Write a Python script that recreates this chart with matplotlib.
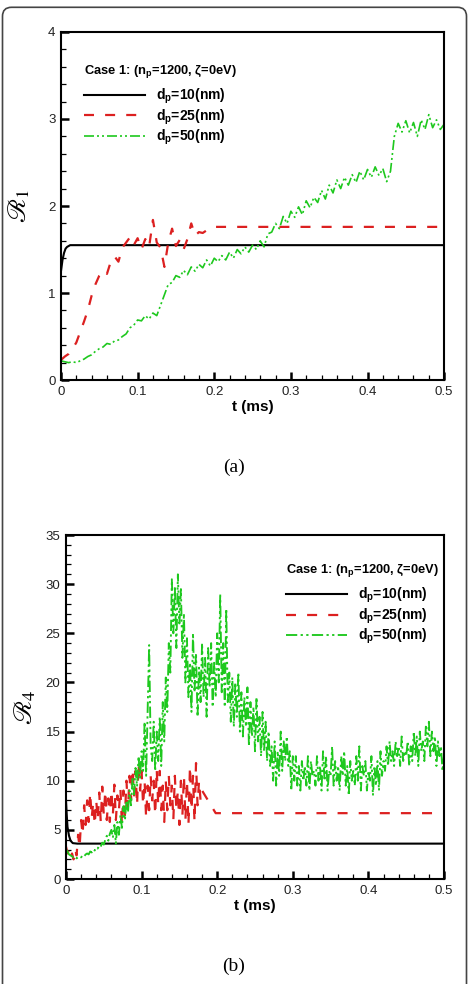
import numpy as np
import matplotlib
matplotlib.use("Agg")
import matplotlib.pyplot as plt
from matplotlib.patches import FancyBboxPatch
from matplotlib.transforms import IdentityTransform

plt.rcParams['font.family'] = ['Liberation Sans', 'DejaVu Sans']

# ---------------- data, panel (a) ----------------
a_black_t = [0, 0.002, 0.004, 0.006, 0.008, 0.012, 0.02, 0.5]
a_black_y = [1.25, 1.38, 1.46, 1.51, 1.53, 1.55, 1.55, 1.55]

# red, dt = 0.005 up to 0.2, then flat
a_red_y = [0.23, 0.27, 0.30, 0.36, 0.43, 0.55, 0.67, 0.80, 0.97, 1.10,
           1.20, 1.26, 1.22, 1.36, 1.42, 1.36, 1.52, 1.58, 1.64, 1.55,
           1.63, 1.50, 1.62, 1.53, 1.84, 1.58, 1.52, 1.30, 1.58, 1.74,
           1.54, 1.61, 1.50, 1.62, 1.80, 1.66, 1.70, 1.69, 1.72, 1.74,
           1.76, 1.76]
a_red_t = [i * 0.005 for i in range(41)] + [0.5]

# green, dt = 0.005
a_green_y = [0.22, 0.21, 0.20, 0.21, 0.20, 0.22, 0.24, 0.27, 0.29, 0.33,
             0.36, 0.38, 0.42, 0.41, 0.45, 0.46, 0.50, 0.53, 0.60, 0.63,
             0.69, 0.68, 0.74, 0.70, 0.77, 0.74, 0.86, 0.98, 1.10, 1.12,
             1.20, 1.18, 1.26, 1.21, 1.30, 1.25, 1.33, 1.29, 1.38, 1.31,
             1.40, 1.36, 1.43, 1.38, 1.47, 1.40, 1.50, 1.45, 1.53, 1.47,
             1.55, 1.50, 1.60, 1.53, 1.68, 1.70, 1.80, 1.74, 1.88, 1.80,
             1.94, 1.87, 1.99, 1.90, 2.06, 1.98, 2.10, 2.04, 2.18, 2.08,
             2.24, 2.15, 2.30, 2.20, 2.33, 2.24, 2.36, 2.27, 2.40, 2.30,
             2.42, 2.33, 2.45, 2.35, 2.43, 2.28, 2.40, 2.80, 2.95, 2.85,
             2.98, 2.84, 2.96, 2.80, 2.99, 2.88, 3.05, 2.90, 2.99, 2.88,
             2.94]
a_green_t = [i * 0.005 for i in range(len(a_green_y))]

# ---------------- data, panel (b) ----------------
b_black_t = [0, 0.001, 0.002, 0.004, 0.006, 0.009, 0.015, 0.5]
b_black_y = [8.0, 6.5, 5.3, 4.4, 3.9, 3.65, 3.6, 3.6]

# red, dt = 0.002 up to 0.18, then drop and flat
b_red_y = [3.3, 2.6, 3.0, 2.2, 2.6, 2.0, 3.0, 2.4, 4.5, 3.2,
           6.0, 4.5, 7.5, 5.5, 8.0, 5.8, 8.8, 6.2, 7.8, 5.5,
           8.0, 6.0, 8.8, 5.8, 9.4, 6.5, 9.0, 6.0, 8.2, 5.8,
           9.0, 6.5, 9.6, 6.0, 8.5, 7.0, 9.2, 5.5, 9.0, 6.5,
           10.0, 7.0, 10.5, 8.0, 11.2, 8.5, 11.0, 7.5, 11.8, 9.0,
           11.0, 7.5, 10.0, 6.2, 9.5, 7.0, 10.5, 8.0, 10.0, 6.5,
           11.2, 7.5, 11.0, 7.0, 9.5, 5.8, 10.0, 7.0, 10.5, 7.5,
           9.5, 6.0, 10.5, 7.0, 9.0, 5.5, 10.0, 6.5, 10.5, 6.0,
           10.0, 5.5, 11.5, 7.0, 10.5, 5.8, 11.8, 7.5, 10.0, 8.0, 9.0,
           6.7, 6.7]
b_red_t = [i * 0.002 for i in range(91)] + [0.198, 0.5]

# green, dt = 0.002
b_green_y = [3.0, 2.8, 2.5, 2.4, 2.3, 2.2, 2.3, 2.1, 2.2, 2.3, 2.2,
             2.4, 2.3, 2.5, 2.6, 2.5, 2.8, 2.7, 3.0, 2.9, 3.2,
             3.1, 3.4, 3.3, 3.7, 3.5, 4.0, 4.4, 3.9, 4.6, 5.0,
             4.2, 5.5, 3.6, 5.8, 4.5, 6.5, 5.2, 7.4, 6.0, 8.0,
             6.8, 9.0, 7.5, 10.2, 8.6, 11.3, 9.4, 12.5, 10.3, 13.0,
             11.0, 16.0, 10.5, 17.0, 23.8, 13.5, 12.0, 16.0, 11.0, 15.0,
             12.0, 16.5, 11.5, 18.0, 14.0, 20.5, 17.0, 24.0, 21.0, 30.5,
             25.0, 29.8, 23.5, 31.0, 26.0, 29.5, 22.5, 27.0, 20.0, 24.5,
             18.5, 22.0, 17.0, 25.0, 19.0, 23.0, 16.5, 21.5, 18.0, 24.0,
             18.5, 22.5, 16.5, 23.5, 19.5, 24.0, 17.5, 22.0, 18.5, 25.0,
             20.0, 29.0, 19.0, 24.0, 17.5, 27.5, 18.0, 21.0, 16.0, 20.5,
             15.5, 20.0, 16.5, 21.0, 15.0, 19.0, 14.5, 18.5, 15.5, 19.5,
             13.5, 18.0, 14.5, 17.5, 13.0, 18.5, 14.0, 16.5, 12.5, 17.0,
             13.0, 16.0, 12.0, 15.0, 11.5, 13.5, 10.0, 14.0, 9.5, 13.0,
             10.5, 15.0, 11.0, 14.0, 12.0, 14.5, 11.5, 13.0, 9.0, 12.5,
             10.0, 12.5, 9.5, 11.5, 9.0, 12.0, 10.0, 11.5, 9.5, 12.5,
             9.0, 12.0, 10.5, 11.0, 9.5, 12.5, 10.0, 11.5, 9.0, 13.0,
             10.0, 12.5, 9.0, 11.0, 10.5, 13.5, 9.5, 12.0, 10.0, 11.5,
             9.0, 12.5, 10.5, 13.0, 9.5, 11.5, 8.5, 12.0, 10.0, 11.0,
             9.5, 12.5, 10.0, 13.5, 9.0, 11.5, 10.5, 12.0, 9.0, 11.0,
             10.0, 12.5, 8.5, 11.5, 9.5, 12.0, 9.0, 13.0, 10.5, 12.0,
             11.0, 13.5, 11.5, 14.0, 12.0, 13.0, 11.5, 14.0, 12.5, 13.5,
             11.5, 14.5, 12.0, 13.0, 12.5, 14.0, 11.5, 13.5, 12.0, 15.0,
             12.5, 14.5, 11.5, 15.0, 13.0, 14.0, 12.0, 15.5, 13.5, 16.0,
             12.5, 15.0, 13.0, 14.5, 11.5, 14.0, 12.5, 13.5, 11.0, 12.5]
b_green_t = [i * 0.002 for i in range(len(b_green_y))]

labels = ['d$_\\mathregular{p}$=10(nm)', 'd$_\\mathregular{p}$=25(nm)',
          'd$_\\mathregular{p}$=50(nm)']
legend_title = 'Case 1: (n$_\\mathregular{p}$=1200, ζ=0eV)'
xtick_vals = [0, 0.1, 0.2, 0.3, 0.4, 0.5]
xtick_labels = ['0', '0.1', '0.2', '0.3', '0.4', '0.5']

RED = '#dc2020'
GREEN = '#1ec81e'


def style_axes(ax, ymax, ymajor, yminor, ylabel):
    ax.set_xlim(0, 0.5)
    ax.set_ylim(0, ymax)
    ax.set_xticks(xtick_vals)
    ax.set_xticklabels(xtick_labels)
    ax.set_xticks(np.arange(0, 0.5001, 0.02), minor=True)
    ax.set_yticks(np.arange(0, ymax + 0.001, ymajor))
    ax.set_yticks(np.arange(0, ymax + 0.001, yminor), minor=True)
    ax.tick_params(which='both', direction='in', top=False, right=False,
                   labelsize=9.5, labelcolor='#222222')
    ax.tick_params(which='major', length=6, width=1.8, pad=4)
    ax.tick_params(which='minor', length=3.5, width=0.9)
    for s in ax.spines.values():
        s.set_linewidth(1.5)
    ax.set_xlabel('t (ms)', fontsize=11, fontweight='bold', labelpad=2)
    ax.set_ylabel(ylabel, fontsize=19, math_fontfamily='stix')
    ax.yaxis.set_label_coords(-0.075, 0.5)


def draw(ax, bt, by, rt, ry, gt, gy, glw):
    l1, = ax.plot(bt, by, color='black', lw=1.5)
    l2, = ax.plot(rt, ry, color=RED, lw=1.6, dashes=(4.5, 5))
    l3, = ax.plot(gt, gy, color=GREEN, lw=glw,
                  dashes=(6, 1.8, 1.2, 1.8, 1.2, 1.8))
    return [l1, l2, l3]


def add_legend(ax, handles, anchor):
    leg = ax.legend(handles, labels, title=legend_title, loc='upper left',
                    bbox_to_anchor=anchor, frameon=False,
                    prop={'size': 10, 'weight': 'bold'},
                    title_fontproperties={'size': 9.3, 'weight': 'bold'},
                    handlelength=4.4, handletextpad=0.8, labelspacing=0.1,
                    borderpad=0, borderaxespad=0, alignment='left')
    # a bit more room between the title and the first entry
    leg._legend_box.sep = 5
    return leg


fig = plt.figure(figsize=(4.69, 9.84), dpi=100)

ax1 = fig.add_axes([0.130, 0.6138, 0.817, 0.3537])
h = draw(ax1, a_black_t, a_black_y, a_red_t, a_red_y, a_green_t, a_green_y, 1.2)
style_axes(ax1, 4, 1, 0.2, r'$\mathscr{R}_{\mathit{1}}$')
add_legend(ax1, h, (0.06, 0.912))

ax2 = fig.add_axes([0.1407, 0.1067, 0.806, 0.3496])
h = draw(ax2, b_black_t, b_black_y, b_red_t, b_red_y, b_green_t, b_green_y, 1.35)
style_axes(ax2, 35, 5, 1, r'$\mathscr{R}_{\mathit{4}}$')
add_legend(ax2, h, (0.582, 0.922))

fig.text(234 / 469, 1 - 467 / 984, '(a)', ha='center', va='center',
         family='Liberation Serif', fontsize=14)
fig.text(234 / 469, 1 - 966 / 984, '(b)', ha='center', va='center',
         family='Liberation Serif', fontsize=14)

# outer rounded frame (pixel coordinates)
frame = FancyBboxPatch((2.5, -20), 464, 996.7,
                       boxstyle='round,pad=0,rounding_size=9',
                       transform=IdentityTransform(), fill=False,
                       edgecolor='#444444', linewidth=1.2)
fig.add_artist(frame)

fig.savefig('out.png', dpi=100)
